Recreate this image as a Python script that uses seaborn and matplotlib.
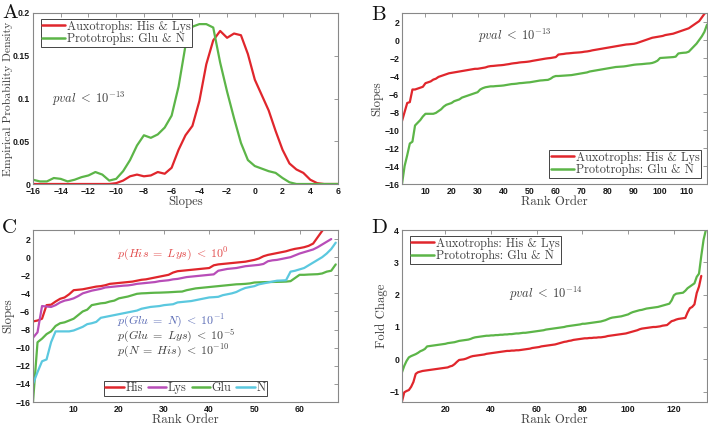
import numpy as np
import pandas as pd
import matplotlib
matplotlib.use("Agg")
import matplotlib.pyplot as plt
import seaborn as sns

# ---------------- data ----------------
slope_bins = [-16, -15.5, -15, -14.5, -14, -13.5, -13, -12.5, -12, -11.5, -11, -10.5, -10, -9.5, -9,
              -8.5, -8, -7.5, -7, -6.5, -6, -5.5, -5, -4.5, -4, -3.5, -3, -2.5, -2, -1.5, -1, -0.5,
              0, 0.5, 1, 1.5, 2, 2.5, 3, 3.5, 4, 4.5, 5, 5.5, 6]
density_auxo = [0, 0, 0, 0, 0, 0, 0, 0, 0, 0, 0, 0,
                0.001, 0.004, 0.009, 0.011, 0.009, 0.010, 0.014, 0.012, 0.019, 0.040, 0.057, 0.068,
                0.097, 0.140, 0.168, 0.179, 0.171, 0.176, 0.174, 0.152, 0.122, 0.104, 0.086, 0.062,
                0.040, 0.024, 0.017, 0.013, 0.005, 0.001, 0, 0, 0]
density_proto = [0.005, 0.003, 0.003, 0.007, 0.006, 0.003, 0.005, 0.008, 0.010, 0.014, 0.011, 0.004,
                 0.006, 0.015, 0.028, 0.045, 0.057, 0.054, 0.058, 0.066, 0.080, 0.114, 0.162, 0.184,
                 0.187, 0.187, 0.183, 0.142, 0.108, 0.077, 0.048, 0.028, 0.021, 0.018, 0.015, 0.013,
                 0.007, 0.002, 0, 0, 0, 0, 0, 0, 0]

slopes_auxo = [-9.0, -8.0, -7.0, -6.9, -5.5, -5.5, -5.4, -5.3, -5.2, -4.8,
               -4.7, -4.6, -4.4, -4.3, -4.1, -4.0, -3.9, -3.8, -3.7, -3.65,
               -3.6, -3.55, -3.5, -3.45, -3.4, -3.35, -3.3, -3.25, -3.2, -3.2,
               -3.15, -3.1, -3.05, -2.95, -2.9, -2.88, -2.85, -2.82, -2.8, -2.77,
               -2.72, -2.68, -2.62, -2.58, -2.55, -2.5, -2.47, -2.45, -2.42, -2.38,
               -2.32, -2.27, -2.22, -2.17, -2.12, -2.07, -2.03, -2.0, -1.95, -1.9,
               -1.62, -1.58, -1.55, -1.5, -1.48, -1.45, -1.42, -1.4, -1.38, -1.35,
               -1.3, -1.27, -1.22, -1.15, -1.1, -1.05, -1.0, -0.95, -0.9, -0.85,
               -0.8, -0.75, -0.7, -0.65, -0.6, -0.55, -0.5, -0.48, -0.45, -0.42,
               -0.35, -0.25, -0.15, -0.05, 0.05, 0.15, 0.25, 0.3, 0.35, 0.4,
               0.45, 0.55, 0.6, 0.65, 0.7, 0.8, 0.9, 1.0, 1.1, 1.2,
               1.3, 1.5, 1.7, 1.9, 2.1, 2.5, 2.9, 3.2]
slopes_proto = [-16.0, -14.0, -12.8, -11.5, -11.3, -9.5, -9.2, -8.9, -8.5, -8.2,
                -8.2, -8.2, -8.2, -8.1, -7.9, -7.7, -7.4, -7.2, -7.1, -7.0,
                -6.8, -6.7, -6.6, -6.4, -6.3, -6.2, -6.1, -6.0, -5.9, -5.8,
                -5.5, -5.35, -5.25, -5.2, -5.15, -5.15, -5.12, -5.1, -5.08, -5.05,
                -5.0, -4.95, -4.9, -4.88, -4.85, -4.8, -4.78, -4.75, -4.72, -4.7,
                -4.65, -4.6, -4.55, -4.5, -4.48, -4.45, -4.43, -4.3, -4.1, -4.0,
                -4.0, -3.98, -3.96, -3.94, -3.92, -3.9, -3.85, -3.8, -3.75, -3.7,
                -3.65, -3.6, -3.5, -3.45, -3.4, -3.35, -3.3, -3.25, -3.2, -3.15,
                -3.1, -3.05, -3.0, -2.98, -2.96, -2.94, -2.9, -2.85, -2.8, -2.75,
                -2.72, -2.7, -2.68, -2.65, -2.62, -2.6, -2.55, -2.45, -2.3, -2.0,
                -1.98, -1.96, -1.94, -1.92, -1.9, -1.85, -1.5, -1.45, -1.42, -1.4,
                -1.3, -1.0, -0.7, -0.4, 0.0, 0.4, 0.9, 1.7]

slopes_his = [-7.1, -7.0, -6.8, -5.3, -5.25, -4.9, -4.6, -4.45, -4.1, -3.65,
              -3.6, -3.55, -3.45, -3.35, -3.25, -3.2, -3.1, -2.95, -2.9, -2.85,
              -2.8, -2.75, -2.7, -2.6, -2.5, -2.45, -2.35, -2.25, -2.15, -2.05,
              -1.95, -1.7, -1.55, -1.5, -1.45, -1.4, -1.35, -1.3, -1.25, -1.2,
              -0.9, -0.8, -0.75, -0.7, -0.65, -0.6, -0.55, -0.5, -0.4, -0.3,
              -0.15, 0.1, 0.25, 0.35, 0.45, 0.55, 0.65, 0.8, 0.92, 1.0,
              1.1, 1.25, 1.5, 2.2, 2.9, 3.5]
slopes_lys = [-8.9, -8.3, -5.4, -5.45, -5.5, -5.3, -5.0, -4.8, -4.7, -4.55,
              -4.3, -4.0, -3.85, -3.7, -3.6, -3.5, -3.35, -3.3, -3.25, -3.2,
              -3.15, -3.12, -3.05, -2.95, -2.9, -2.85, -2.8, -2.75, -2.65, -2.6,
              -2.55, -2.45, -2.4, -2.3, -2.2, -2.15, -2.1, -2.05, -2.0, -1.95,
              -1.9, -1.5, -1.4, -1.3, -1.25, -1.2, -1.1, -1.0, -0.95, -0.9,
              -0.85, -0.75, -0.45, -0.35, -0.3, -0.2, -0.1, 0.0, 0.2, 0.4,
              0.55, 0.7, 0.85, 1.1, 1.4, 1.7, 2.0]
slopes_glu = [-16.0, -9.4, -9.0, -8.5, -8.2, -7.6, -7.3, -7.2, -7.0, -6.8,
              -6.4, -6.0, -5.8, -5.3, -5.2, -5.1, -5.05, -4.9, -4.8, -4.55,
              -4.45, -4.35, -4.2, -4.05, -4.0, -3.98, -3.95, -3.93, -3.92, -3.9,
              -3.88, -3.85, -3.82, -3.8, -3.65, -3.55, -3.45, -3.4, -3.35, -3.3,
              -3.25, -3.2, -3.15, -3.1, -3.05, -3.0, -2.98, -2.95, -2.9, -2.8,
              -2.78, -2.76, -2.75, -2.74, -2.73, -2.72, -2.7, -2.65, -2.3, -1.95,
              -1.95, -1.92, -1.9, -1.88, -1.8, -1.6, -1.5, -0.8]
slopes_n = [-14.0, -12.7, -11.5, -11.3, -9.4, -8.2, -8.2, -8.2, -8.2, -8.1,
            -7.9, -7.7, -7.4, -7.3, -7.15, -6.7, -6.6, -6.5, -6.4, -6.3,
            -6.2, -6.1, -6.0, -5.9, -5.7, -5.6, -5.5, -5.45, -5.4, -5.3,
            -5.25, -5.2, -5.0, -4.95, -4.9, -4.85, -4.75, -4.65, -4.55, -4.45,
            -4.42, -4.38, -4.2, -4.1, -4.0, -3.85, -3.6, -3.4, -3.3, -3.2,
            -3.0, -2.9, -2.8, -2.7, -2.6, -2.58, -2.55, -1.6, -1.5, -1.35,
            -1.2, -0.9, -0.6, -0.3, 0.0, 0.4, 0.9, 1.6]

fold_auxo = [-1.3, -1.02, -0.98, -0.95, -0.85, -0.7, -0.45, -0.4, -0.38, -0.36,
             -0.35, -0.34, -0.33, -0.32, -0.31, -0.3, -0.29, -0.28, -0.27, -0.26,
             -0.25, -0.22, -0.2, -0.15, -0.08, -0.02, -0.01, 0.0, 0.02, 0.05,
             0.08, 0.1, 0.11, 0.12, 0.13, 0.14, 0.15, 0.17, 0.18, 0.19,
             0.2, 0.21, 0.22, 0.23, 0.24, 0.25, 0.26, 0.26, 0.27, 0.27,
             0.28, 0.28, 0.29, 0.3, 0.31, 0.32, 0.33, 0.35, 0.36, 0.37,
             0.38, 0.4, 0.41, 0.42, 0.43, 0.44, 0.45, 0.46, 0.48, 0.5,
             0.52, 0.54, 0.55, 0.57, 0.58, 0.6, 0.61, 0.62, 0.63, 0.64,
             0.65, 0.65, 0.66, 0.66, 0.67, 0.67, 0.68, 0.68, 0.69, 0.7,
             0.72, 0.73, 0.74, 0.75, 0.76, 0.77, 0.78, 0.79, 0.8, 0.82,
             0.84, 0.86, 0.88, 0.9, 0.93, 0.95, 0.96, 0.97, 0.98, 0.99,
             1.0, 1.0, 1.01, 1.02, 1.04, 1.05, 1.06, 1.12, 1.18, 1.2,
             1.23, 1.25, 1.26, 1.27, 1.28, 1.45, 1.58, 1.62, 1.7, 2.05,
             2.25, 2.58]
fold_proto = [-0.4, -0.2, -0.05, 0.06, 0.1, 0.13, 0.16, 0.2, 0.25, 0.28,
              0.32, 0.4, 0.41, 0.42, 0.43, 0.44, 0.45, 0.46, 0.47, 0.48,
              0.5, 0.51, 0.52, 0.53, 0.55, 0.57, 0.58, 0.59, 0.6, 0.61,
              0.63, 0.66, 0.68, 0.69, 0.7, 0.71, 0.72, 0.73, 0.73, 0.74,
              0.74, 0.75, 0.75, 0.76, 0.76, 0.77, 0.77, 0.78, 0.78, 0.79,
              0.8, 0.8, 0.81, 0.82, 0.82, 0.83, 0.84, 0.85, 0.86, 0.87,
              0.88, 0.89, 0.9, 0.92, 0.93, 0.94, 0.95, 0.96, 0.97, 0.98,
              0.99, 1.0, 1.02, 1.03, 1.04, 1.05, 1.06, 1.07, 1.08, 1.1,
              1.1, 1.11, 1.12, 1.13, 1.14, 1.15, 1.16, 1.17, 1.19, 1.21,
              1.24, 1.27, 1.29, 1.3, 1.31, 1.32, 1.33, 1.35, 1.37, 1.39,
              1.43, 1.46, 1.48, 1.5, 1.52, 1.53, 1.55, 1.57, 1.58, 1.59,
              1.6, 1.61, 1.62, 1.64, 1.66, 1.68, 1.7, 1.72, 1.82, 1.98,
              2.03, 2.04, 2.05, 2.06, 2.12, 2.2, 2.25, 2.3, 2.35, 2.55,
              2.65, 3.2, 3.7, 4.0]

lab_auxo = "Auxotrophs: His & Lys"
lab_proto = "Prototrophs: Glu & N"

RED = "#e0262c"
GREEN = "#5cb548"
MAGENTA = "#b84db8"
CYAN = "#5bc8df"
BLUE_TXT = "#5a6bb5"
RED_TXT = "#e24a4a"
GRAY_TXT = "#404040"

# ---------------- style ----------------
sns.set_style("white")
plt.rcParams.update({
    "font.family": ["cmr10", "DejaVu Serif"],
    "mathtext.fontset": "cm",
    "axes.unicode_minus": True,
    "axes.formatter.use_mathtext": False,
    "axes.edgecolor": "#888888",
    "axes.linewidth": 0.8,
    "xtick.direction": "in",
    "ytick.direction": "in",
    "xtick.major.size": 3,
    "ytick.major.size": 3,
    "xtick.major.width": 0.6,
    "ytick.major.width": 0.6,
    "xtick.color": "#888888",
    "ytick.color": "#888888",
    "xtick.top": True,
    "ytick.right": True,
})

fig = plt.figure(figsize=(7.08, 4.26), dpi=100)
W, H = 708, 426


def add_ax(l, t, r, b):
    return fig.add_axes([l / W, 1 - b / H, (r - l) / W, (b - t) / H])


axA = add_ax(33, 13, 338, 184)
axB = add_ax(402, 13, 707, 184)
axC = add_ax(33, 230, 338, 402)
axD = add_ax(402, 230, 707, 402)


def long_df(series):
    rows = []
    for name, vals in series:
        for i, v in enumerate(vals):
            rows.append((i + 1, v, name))
    return pd.DataFrame(rows, columns=["rank", "value", "series"])


def style_ax(ax):
    for lab in ax.get_xticklabels() + ax.get_yticklabels():
        lab.set_fontfamily("Liberation Sans")
        lab.set_fontweight("bold")
        lab.set_fontsize(6.3)
        lab.set_color("#1a1a1a")
    ax.tick_params(which="both", direction="in", top=True, right=True, pad=2)
    for s in ax.spines.values():
        s.set_visible(True)
        s.set_color("#888888")


def set_labels(ax, xl, yl, ylpad=1, ysize=9.2):
    ax.set_xlabel(xl, fontsize=9.2, color=GRAY_TXT, labelpad=0)
    ax.set_ylabel(yl, fontsize=ysize, color=GRAY_TXT, labelpad=ylpad)


def do_legend(ax, hl=1.9, **kw):
    h, l = ax.get_legend_handles_labels()
    leg = ax.legend(h, l, frameon=True, fancybox=False, framealpha=1,
                    edgecolor="#444444", prop={"family": "cmr10", "size": 8.8},
                    borderpad=0.12, labelspacing=0.05, handletextpad=0.15,
                    handlelength=hl, **kw)
    leg.get_frame().set_linewidth(0.7)
    for line in leg.get_lines():
        line.set_linewidth(1.8)
    for t in leg.get_texts():
        t.set_color(GRAY_TXT)
    return leg


lw = 1.6
TXT = 9.0
CTXT = 8.6

# ---------- Panel A ----------
dfA = pd.DataFrame({"slope": slope_bins * 2,
                    "density": density_auxo + density_proto,
                    "series": [lab_auxo] * len(slope_bins) + [lab_proto] * len(slope_bins)})
sns.lineplot(data=dfA, x="slope", y="density", hue="series",
             palette={lab_auxo: RED, lab_proto: GREEN}, ax=axA, lw=lw,
             estimator=None, sort=False)
axA.set_xlim(-16, 6)
axA.set_ylim(0, 0.2)
axA.set_xticks(np.arange(-16, 7, 2))
axA.set_yticks([0, 0.05, 0.1, 0.15, 0.2])
axA.set_yticklabels(["0", "0.05", "0.1", "0.15", "0.2"])
set_labels(axA, "Slopes", "Empirical Probability Density", ylpad=0, ysize=8.4)
do_legend(axA, loc="upper left", bbox_to_anchor=(0.005, 1.0))
axA.text(-14.6, 0.1, r"$pval\;<\;10^{-13}$", fontsize=TXT, color=GRAY_TXT, va="center")
style_ax(axA)

# ---------- Panel B ----------
dfB = long_df([(lab_auxo, slopes_auxo), (lab_proto, slopes_proto)])
sns.lineplot(data=dfB, x="rank", y="value", hue="series",
             palette={lab_auxo: RED, lab_proto: GREEN}, ax=axB, lw=lw,
             estimator=None, sort=False)
axB.set_xlim(1, 118)
axB.set_ylim(-16, 3)
axB.set_xticks(np.arange(10, 111, 10))
axB.set_yticks(np.arange(-16, 3, 2))
set_labels(axB, "Rank Order", "Slopes")
do_legend(axB, loc="lower right", bbox_to_anchor=(1.0, 0.0))
axB.text(30, 0.4, r"$pval\;<\;10^{-13}$", fontsize=TXT, color=GRAY_TXT, va="center")
style_ax(axB)

# ---------- Panel C ----------
dfC = long_df([("His", slopes_his), ("Lys", slopes_lys), ("Glu", slopes_glu), ("N", slopes_n)])
sns.lineplot(data=dfC, x="rank", y="value", hue="series",
             palette={"His": RED, "Lys": MAGENTA, "Glu": GREEN, "N": CYAN}, ax=axC, lw=lw,
             estimator=None, sort=False)
axC.set_xlim(1, 68.5)
axC.set_ylim(-16, 3)
axC.set_xticks(np.arange(10, 61, 10))
axC.set_yticks(np.arange(-16, 3, 2))
set_labels(axC, "Rank Order", "Slopes")
do_legend(axC, hl=1.5, loc="lower center", ncol=4, columnspacing=0.4,
          bbox_to_anchor=(0.5, 0.0))
axC.text(19.7, 0.35, r"$p(His\;=\;Lys)\;<\;10^{0}$", fontsize=CTXT, color=RED_TXT, va="center")
axC.text(19.7, -7.1, r"$p(Glu\;=\;N)\;<\;10^{-1}$", fontsize=CTXT, color=BLUE_TXT, va="center")
axC.text(19.7, -8.75, r"$p(Glu\;=\;Lys)\;<\;10^{-5}$", fontsize=CTXT, color=GRAY_TXT, va="center")
axC.text(19.7, -10.35, r"$p(N\;=\;His)\;<\;10^{-10}$", fontsize=CTXT, color=GRAY_TXT, va="center")
style_ax(axC)

# ---------- Panel D ----------
dfD = long_df([(lab_auxo, fold_auxo), (lab_proto, fold_proto)])
sns.lineplot(data=dfD, x="rank", y="value", hue="series",
             palette={lab_auxo: RED, lab_proto: GREEN}, ax=axD, lw=lw,
             estimator=None, sort=False)
axD.set_xlim(1, 134.5)
axD.set_ylim(-1.32, 4)
axD.set_xticks(np.arange(20, 121, 20))
axD.set_yticks(np.arange(-1, 5, 1))
set_labels(axD, "Rank Order", "Fold Chage")
do_legend(axD, loc="upper left", bbox_to_anchor=(0.005, 1.0))
axD.text(48, 2.03, r"$pval\;<\;10^{-14}$", fontsize=TXT, color=GRAY_TXT, va="center")
style_ax(axD)

# panel letters
for letter, x, y in [("A", 2, 13), ("B", 371, 15), ("C", 2, 228), ("D", 371, 228)]:
    fig.text(x / W, 1 - y / H, letter, fontsize=15, va="center", ha="left",
             family="cmr10", color="#111111")

fig.savefig("out.png", dpi=100)
